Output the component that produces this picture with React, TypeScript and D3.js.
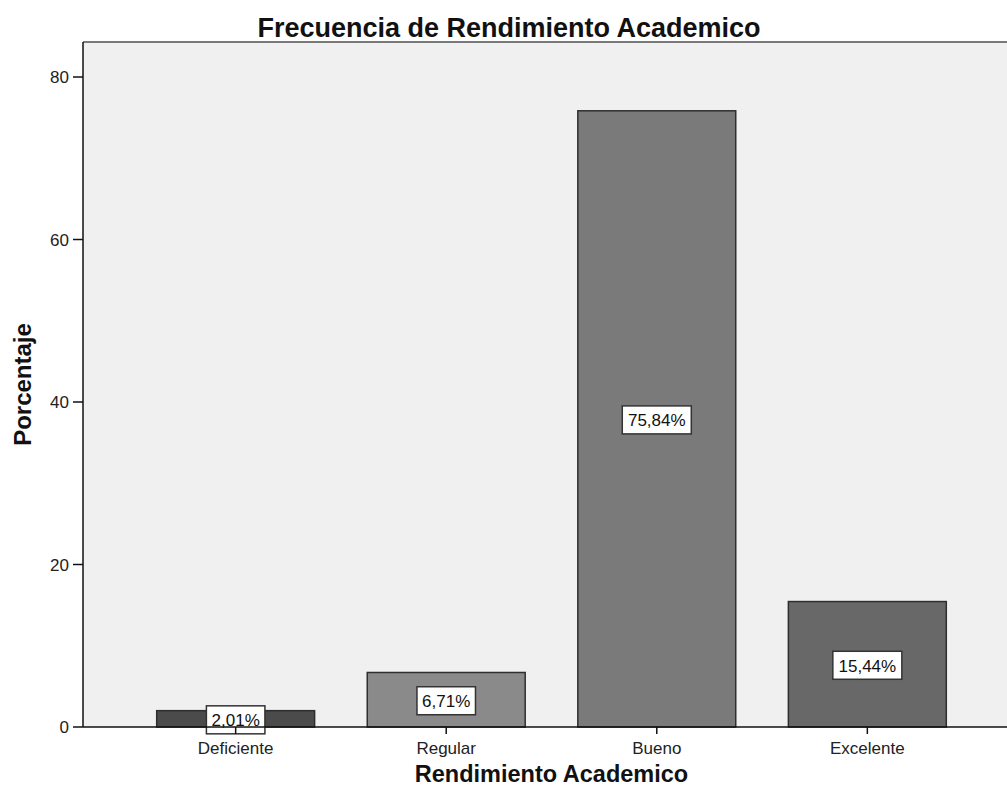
import React from "react";
import * as d3 from "d3";

const categories = ["Deficiente", "Regular", "Bueno", "Excelente"];
const percentages = [2.01, 6.71, 75.84, 15.44];
const barColors = ["#4b4b4b", "#8a8a8a", "#7a7a7a", "#686868"];
const yTicks = [0, 20, 40, 60, 80];

const W = 1007;
const H = 800;
const plot = { left: 83, right: 1020, top: 42, bottom: 727 };
const FONT = "'Liberation Sans', Arial, Helvetica, sans-serif";

const fmt = (v: number) => v.toFixed(2).replace(".", ",") + "%";

export default function App() {
  const x = d3
    .scaleBand<string>()
    .domain(categories)
    .range([plot.left, plot.right])
    .paddingInner(0.25)
    .paddingOuter(0.35)
    .align(0.5);
  const y = d3
    .scaleLinear()
    .domain([0, (plot.bottom - plot.top) / 8.125])
    .range([plot.bottom, plot.top]);

  return (
    <svg
      width={W}
      height={H}
      style={{ position: "absolute", left: 0, top: 0, background: "#fff" }}
      fontFamily={FONT}
    >
      <rect
        x={plot.left}
        y={plot.top}
        width={plot.right - plot.left}
        height={plot.bottom - plot.top}
        fill="#f0f0f0"
      />
      <line x1={plot.left} x2={W} y1={plot.top} y2={plot.top} stroke="#7a7a7a" strokeWidth={2} />

      {categories.map((c, i) => {
        const v = percentages[i];
        const bx = x(c)!;
        const bw = x.bandwidth();
        const top = y(v);
        const cx = bx + bw / 2;
        const cy = y(v / 2) + 1;
        const label = fmt(v);
        const boxW = label.length * 10.5 + 6;
        return (
          <g key={c}>
            <rect
              x={bx}
              y={top}
              width={bw}
              height={plot.bottom - top}
              fill={barColors[i]}
              stroke="#2e2e2e"
              strokeWidth={1.5}
            />
            <rect
              x={cx - boxW / 2}
              y={cy - 14}
              width={boxW}
              height={28}
              fill="#fff"
              stroke="#333"
              strokeWidth={1.5}
            />
            <text
              x={cx}
              y={cy + 6.5}
              textAnchor="middle"
              fontSize={17}
              fill="#111"
            >
              {label}
            </text>
          </g>
        );
      })}

      {/* axes */}
      <line x1={plot.left} x2={plot.left} y1={plot.top} y2={plot.bottom} stroke="#111" strokeWidth={1.5} />
      <line x1={plot.left} x2={W} y1={plot.bottom} y2={plot.bottom} stroke="#111" strokeWidth={1.5} />

      {yTicks.map((t) => (
        <g key={t}>
          <line x1={plot.left - 10} x2={plot.left} y1={y(t)} y2={y(t)} stroke="#111" strokeWidth={1.5} />
          <text x={plot.left - 14} y={y(t) + 6} textAnchor="end" fontSize={17} fill="#222">
            {t}
          </text>
        </g>
      ))}

      {categories.map((c) => {
        const cx = x(c)! + x.bandwidth() / 2;
        return (
          <g key={"t" + c}>
            <line x1={cx} x2={cx} y1={plot.bottom} y2={plot.bottom + 7} stroke="#111" strokeWidth={1.5} />
            <text x={cx} y={plot.bottom + 27} textAnchor="middle" fontSize={17} fill="#222">
              {c}
            </text>
          </g>
        );
      })}

      <text x={509} y={37} textAnchor="middle" fontSize={27} fontWeight="bold" fill="#111">
        Frecuencia de Rendimiento Academico
      </text>
      <text
        x={(plot.left + plot.right) / 2}
        y={782}
        textAnchor="middle"
        fontSize={23.5}
        fontWeight="bold"
        fill="#111"
      >
        Rendimiento Academico
      </text>
      <text
        transform={`translate(31, ${(plot.top + plot.bottom) / 2}) rotate(-90)`}
        textAnchor="middle"
        fontSize={24}
        fontWeight="bold"
        fill="#111"
      >
        Porcentaje
      </text>
    </svg>
  );
}
